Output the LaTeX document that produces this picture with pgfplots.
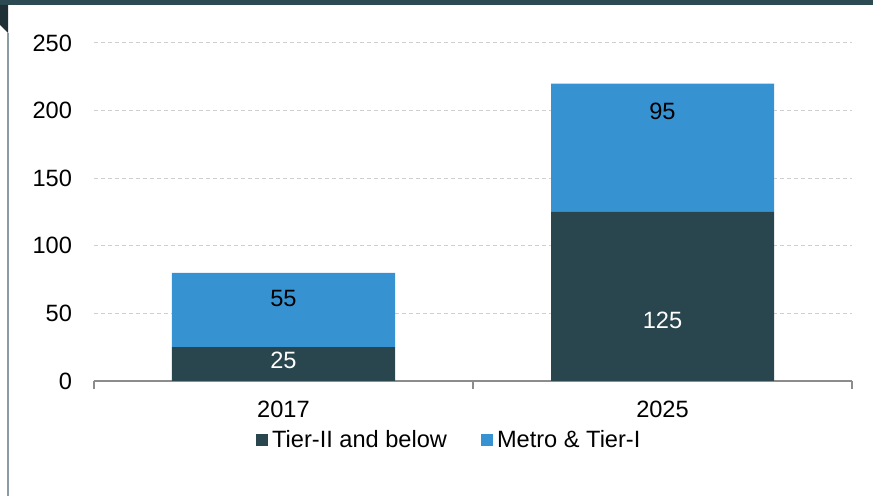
\documentclass[border=0pt]{standalone}
\usepackage{pgfplots}
\pgfplotsset{compat=1.18}
\usepackage{fontspec}
\setmainfont{Liberation Sans}
\definecolor{darkc}{HTML}{29464F}
\definecolor{bluec}{HTML}{3792D2}
\definecolor{bandc}{HTML}{2C4A52}
\definecolor{tric}{HTML}{1E2F35}
\definecolor{linec}{HTML}{8A9CA3}
\definecolor{gridc}{HTML}{CFCFCF}
\definecolor{axc}{HTML}{8C8C8C}
\begin{document}
\begin{tikzpicture}
\useasboundingbox (0pt,0pt) rectangle (436.5pt,248pt);
\fill[bandc] (0pt,245.5pt) rectangle (436.5pt,248pt);
\fill[tric] (0pt,245.5pt) -- (4pt,245.5pt) -- (4pt,231.5pt) -- (0pt,235.5pt) -- cycle;
\draw[linec,line width=0.8pt] (4pt,231.5pt) -- (4pt,0pt);
\begin{axis}[
  at={(47pt,57.5pt)}, anchor=south west,
  scale only axis, width=379pt, height=169pt,
  ybar stacked, bar width=111.5pt,
  xmin=-0.5, xmax=1.5, ymin=0, ymax=250,
  xtick={-0.5,0.5,1.5}, xticklabels={},
  extra x ticks={0,1}, extra x tick labels={2017,2025},
  extra x tick style={major tick length=0pt, grid=none},
  ytick={0,50,100,150,200,250},
  ymajorgrids, grid style={gridc, dash pattern=on 2pt off 1.5pt, line width=0.5pt},
  axis x line*=bottom, axis y line*=left,
  y axis line style={draw=none},
  x axis line style={axc, line width=1pt, -},
  x tick style={axc, line width=1pt},
  y tick style={draw=none},
  major tick length=4pt, tick align=outside,
  tick label style={font=\fontsize{11.8}{14}\selectfont, black},
  /pgf/number format/assume math mode=true,
  yticklabel style={xshift=-3.5pt},
  xticklabel style={yshift=-6.5pt},
  legend style={at={(0.47,-0.12)}, anchor=north, draw=none, legend columns=2,
    font=\fontsize{11.8}{14}\selectfont, /tikz/every even column/.append style={column sep=15pt}},
  legend image code/.code={\fill[#1] (0pt,-3pt) rectangle (6pt,3pt);},
  clip=false,
  after end axis/.code={
    \node[white, font=\fontsize{11.8}{14}\selectfont] at (axis cs:0,15.5) {25};
    \node[black, font=\fontsize{11.8}{14}\selectfont] at (axis cs:0,60.7) {55};
    \node[white, font=\fontsize{11.8}{14}\selectfont] at (axis cs:1,45) {125};
    \node[black, font=\fontsize{11.8}{14}\selectfont] at (axis cs:1,199.7) {95};
  },
]
\addplot[fill=darkc, draw=none] coordinates {(0,25) (1,125)};
\addplot[fill=bluec, draw=none] coordinates {(0,55) (1,95)};
\legend{Tier-II and below, Metro \& Tier-I}
\end{axis}
\end{tikzpicture}
\end{document}
